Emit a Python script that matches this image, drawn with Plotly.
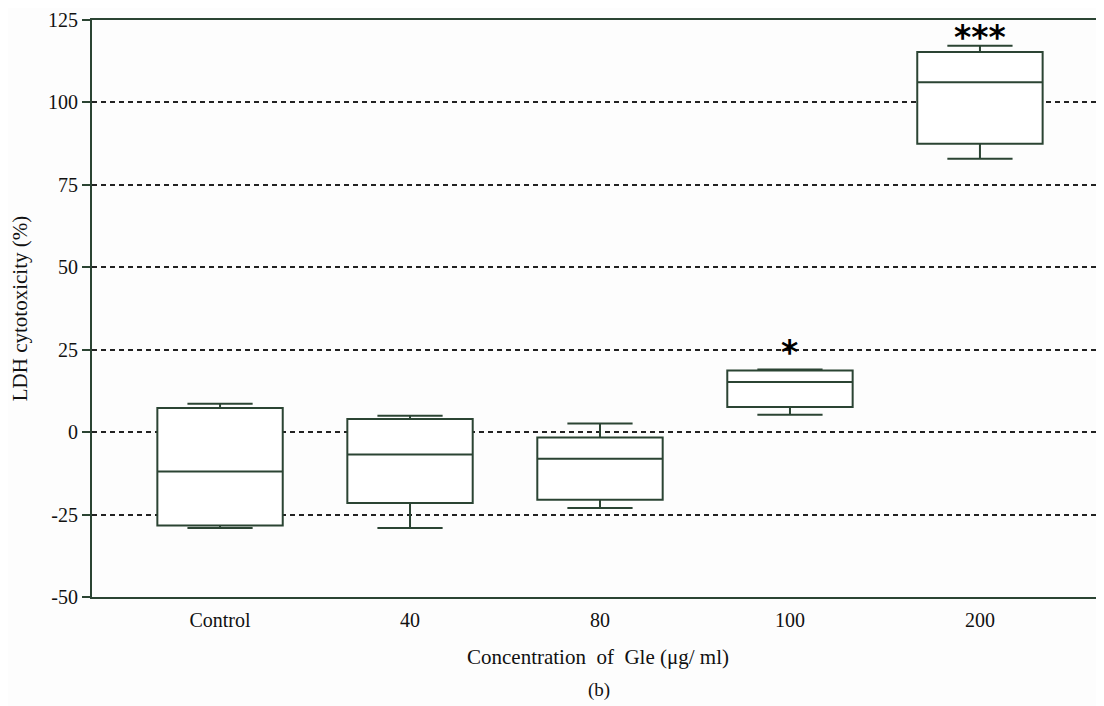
import plotly.graph_objects as go

categories = ["Control", "40", "80", "100", "200"]
q1 = [-28.3, -21.5, -20.5, 7.6, 87.5]
median = [-11.9, -6.8, -8.1, 15.2, 106.1]
q3 = [7.3, 4.0, -1.6, 18.7, 115.3]
lower = [-29.1, -29.1, -23.0, 5.3, 82.9]
upper = [8.6, 5.0, 2.6, 19.0, 117.2]
sig_labels = ["", "", "", "*", "***"]
sig_y = [None, None, None, 24.3, 119.6]
y_ticks = [-50, -25, 0, 25, 50, 75, 100, 125]
y_ticktext = ["-50", "-25", "0", "25", "50", "75", "100", "125"]

line_col = "#2b4433"
serif = "Liberation Serif"

fig = go.Figure()
fig.add_trace(go.Box(
    x=categories, q1=q1, median=median, q3=q3,
    lowerfence=lower, upperfence=upper,
    boxpoints=False, width=0.66, whiskerwidth=0.52,
    fillcolor="white", line=dict(color=line_col, width=2),
    showlegend=False, hoverinfo="skip",
))

for i, (s, yv) in enumerate(zip(sig_labels, sig_y)):
    if s:
        fig.add_annotation(x=i, y=yv, text="<b>" + s + "</b>", showarrow=False,
                           font=dict(family="DejaVu Sans", size=33, color="black"),
                           yanchor="middle")

fig.add_annotation(xref="paper", yref="paper", x=0.501, y=-0.161, text="(b)",
                   showarrow=False, font=dict(family=serif, size=19, color="#111"),
                   yanchor="middle")

fig.update_layout(
    width=1096, height=698,
    margin=dict(l=84, r=0, t=12, b=109, autoexpand=False),
    paper_bgcolor="#fdfdfd", plot_bgcolor="#fdfdfd",
    font=dict(family=serif, size=19, color="#111"),
    xaxis=dict(
        type="category", range=[-0.674, 4.653], automargin=False,
        showline=True, linecolor=line_col, linewidth=2, mirror=True,
        showgrid=False, ticks="", tickfont=dict(size=20), ticklabelstandoff=4,
        title=dict(text="Concentration  of  Gle (μg/ ml)", font=dict(size=21), standoff=19),
    ),
    yaxis=dict(
        range=[-50, 125], tickvals=y_ticks, ticktext=y_ticktext, automargin=False,
        showline=True, linecolor=line_col, linewidth=2,
        ticks="outside", ticklen=8, tickwidth=2, tickcolor=line_col,
        tickfont=dict(size=20),
        showgrid=True, gridcolor="#222", gridwidth=1.5, griddash="5px,4px",
        zeroline=False,
        title=dict(text="LDH cytotoxicity (%)", font=dict(size=21), standoff=17),
    ),
)

fig.write_html("out.html")
